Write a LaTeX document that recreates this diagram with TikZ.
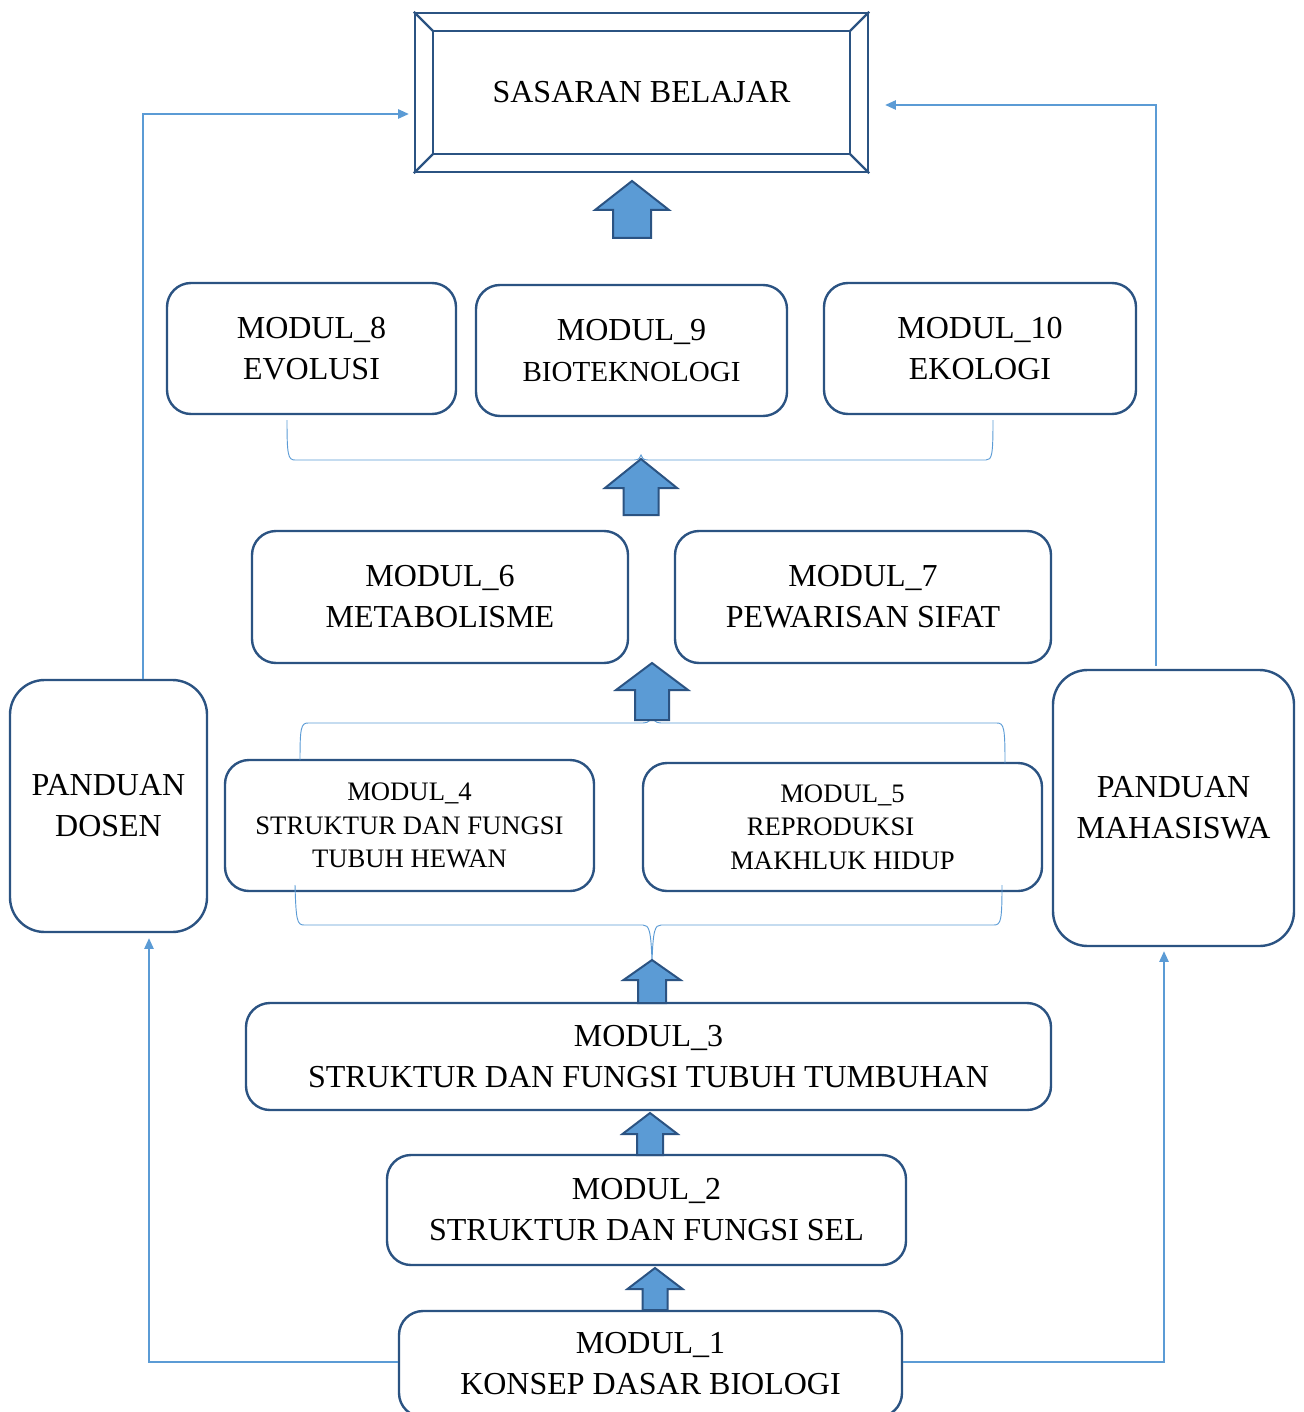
\documentclass[tikz,border=0pt]{standalone}
\usepackage{fontspec}
\setmainfont{Liberation Serif}
\usetikzlibrary{arrows.meta,calc}
\definecolor{bord}{HTML}{2B5382}
\definecolor{afill}{HTML}{5B9BD5}
\definecolor{lnk}{HTML}{5B9BD5}
\def\pxu{0.75pt}
\newcommand\BlockUp[6]{%
  \draw[blk] (#1,#2) -- ({#1+#3},#5) -- ({#1+#4},#5) -- ({#1+#4},#6) -- ({#1-#4},#6) -- ({#1-#4},#5) -- ({#1-#3},#5) -- cycle;}
\tikzset{
  mod/.style={draw=bord, line width=1.8pt, rounded corners=18pt, inner sep=0pt, align=center, text=black,
              font=\fontsize{24}{30.75}\selectfont},
  modsmall/.style={mod, font=\fontsize{20}{25}\selectfont},
  guide/.style={mod, rounded corners=26pt},
  bev/.style={draw=bord, line width=1.8pt},
  blk/.style={draw=bord, line width=1.5pt, fill=afill, line join=miter},
  conn/.style={draw=lnk, line width=1.1pt, -{Triangle[length=8pt,width=7pt]}},
  brc/.style={draw=lnk, line width=0.7pt}
}
\begin{document}
\begin{tikzpicture}[x=0.75pt,y=-0.75pt]
\useasboundingbox (0,0) rectangle (1303,1412);
% goal bevel box
\node[bev, minimum width=453*\pxu, minimum height=159*\pxu, inner sep=0pt, font=\fontsize{24}{30}\selectfont]
  (goal) at (641.5,92.5) {SASARAN BELAJAR};
\draw[bev] ($(goal.north west)+(19,19)$) rectangle ($(goal.south east)+(-19,-19)$);
\draw[bev] (goal.north west) -- ++(19,19);
\draw[bev] (goal.north east) -- ++(-19,19);
\draw[bev] (goal.south west) -- ++(19,-19);
\draw[bev] (goal.south east) -- ++(-19,-19);
% modules
\node[mod, minimum width=289*\pxu, minimum height=131*\pxu] (m8) at (311.5,348.5) {MODUL\_8\\EVOLUSI};
\node[mod, minimum width=311*\pxu, minimum height=131*\pxu] (m9) at (631.5,350.5) {MODUL\_9\\{\fontsize{21.8}{29}\selectfont BIOTEKNOLOGI}};
\node[mod, minimum width=312*\pxu, minimum height=131*\pxu] (m10) at (980,348.5) {MODUL\_10\\EKOLOGI};
\node[mod, minimum width=376*\pxu, minimum height=132*\pxu] (m6) at (440,597) {MODUL\_6\\METABOLISME};
\node[mod, minimum width=376*\pxu, minimum height=132*\pxu] (m7) at (863,597) {MODUL\_7\\PEWARISAN SIFAT};
\node[modsmall, minimum width=369*\pxu, minimum height=131*\pxu] (m4) at (409.5,825.5) {MODUL\_4\\STRUKTUR DAN FUNGSI\\TUBUH HEWAN};
\node[modsmall, minimum width=399*\pxu, minimum height=128*\pxu] (m5) at (842.5,827) {MODUL\_5\\REPRODUKSI\rule{18pt}{0pt}\\MAKHLUK HIDUP};
\node[mod, minimum width=805*\pxu, minimum height=107*\pxu] (m3) at (648.5,1056.5) {MODUL\_3\\STRUKTUR DAN FUNGSI TUBUH TUMBUHAN};
\node[mod, minimum width=519*\pxu, minimum height=110*\pxu] (m2) at (646.5,1210) {MODUL\_2\\STRUKTUR DAN FUNGSI SEL};
\node[mod, minimum width=503*\pxu, minimum height=106*\pxu] (m1) at (650.5,1364) {MODUL\_1\\KONSEP DASAR BIOLOGI};
\node[guide, minimum width=197*\pxu, minimum height=252*\pxu] (dosen) at (108.5,806) {PANDUAN\\DOSEN};
\node[guide, minimum width=241*\pxu, minimum height=276*\pxu] (mhs) at (1173.5,808) {PANDUAN\\MAHASISWA};
% braces
\draw[brc] (287,420) .. controls (287,455) and (288,460) .. (295,460) -- (634,460)
  .. controls (639,460) and (640,458) .. (641,455) .. controls (642,458) and (643,460) .. (648,460)
  -- (986,460) .. controls (992,460) and (993,455) .. (993,420);
\draw[brc] (300,760) .. controls (300,728) and (301,723) .. (308,723) -- (643,723)
  .. controls (649,723) and (651,720) .. (652,714) .. controls (653,720) and (655,723) .. (661,723)
  -- (997,723) .. controls (1004,723) and (1005,728) .. (1005,763);
\draw[brc] (295,885) .. controls (296,920) and (297,925) .. (304,925) -- (643,925)
  .. controls (649,925) and (651,930) .. (652,962) .. controls (653,930) and (655,925) .. (661,925)
  -- (994,925) .. controls (1001,925) and (1002,920) .. (1002,885);
% block arrows
\BlockUp{632}{181}{37}{19}{210}{238}
\BlockUp{641}{459}{36}{17.5}{488}{515}
\BlockUp{652}{663}{36}{17}{690}{720}
\BlockUp{652}{960}{28.5}{14}{980}{1003}
\BlockUp{650}{1113}{27.5}{13}{1134}{1155}
\BlockUp{655}{1268}{27.5}{12.5}{1289}{1310}
% guide connectors
\draw[conn] ($(m1.west)+(0,-2)$) -| ($(dosen.south)+(40.5,5)$);
\draw[conn] ($(m1.east)+(0,-2)$) -| ($(mhs.south)+(-9.5,4)$);
\draw[conn] ($(dosen.north)+(34.5,0)$) |- ($(goal.west)+(-5,21.5)$);
\draw[conn] ($(mhs.north)+(-17.5,-3)$) |- ($(goal.east)+(16,12.5)$);
\end{tikzpicture}
\end{document}
